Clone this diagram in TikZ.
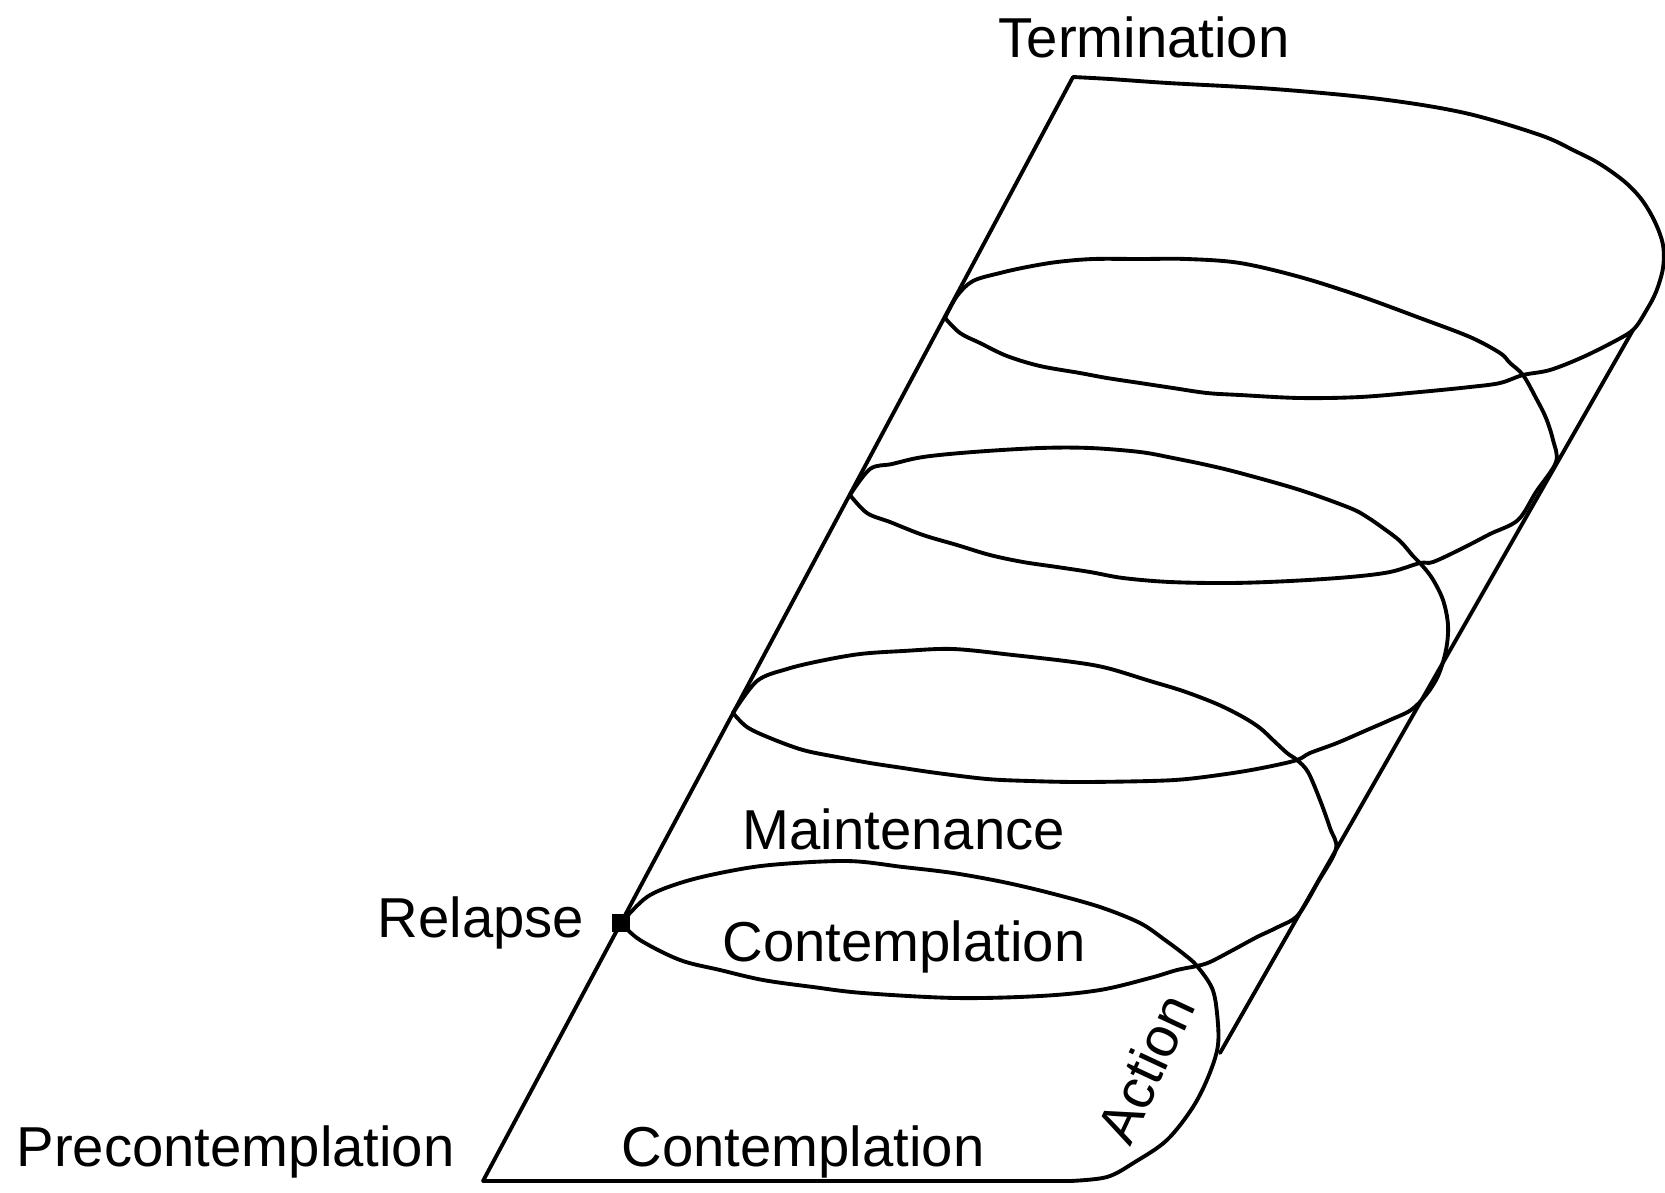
\documentclass[tikz,border=0pt]{standalone}
\usepackage{fontspec}
\setmainfont{Liberation Sans}

\begin{document}
\begin{tikzpicture}[x=0.01cm, y=-0.01cm,
  coil/.style={line width=1.1pt, line join=round, line cap=round},
  stage/.style={inner sep=0pt, anchor=base west, font=\fontsize{16}{19}\selectfont}
]
\useasboundingbox (0,0) rectangle (1665,1193);
\coordinate (base) at (483,1181);
\coordinate (top)  at (1073,77);
\coordinate (L1) at (621,923);
\coordinate (L2) at (733,713);
\coordinate (L3) at (850,495);
\coordinate (L4) at (945,318);
\coordinate (X1) at (1197,966);
\coordinate (X2) at (1297,760);
\coordinate (X3) at (1420,563);
\coordinate (X4) at (1523,375);
\coordinate (rb) at (1220,1053);
\coordinate (rt) at (1633,330);

\draw[coil] (base) -- (top);
\draw[coil] (rb) -- (rt);

\draw[coil] (base) -- (1070,1181) -- plot[smooth, tension=0.55] coordinates {(1070,1181) (1107,1177)
  (1135,1162) (1167,1140) (1193,1107) (1209,1075) (1218,1045) (1217,1013) (1212,988) (X1) (1185,955)
  (1165,940) (1140,923) (1100,907) (1050,893) (1003,882) (953,873) (903,867) (847,861) (770,865)
  (720,873) (680,883) (647,897) (L1)};
\draw[coil] plot[smooth, tension=0.55] coordinates {(L1) (640,940) (680,960) (720,970) (763,980)
  (813,987) (863,993) (956,998) (1040,996) (1100,990) (1150,978) (1177,970) (X1) (1210,962) (1233,950)
  (1257,937) (1278,927) (1298,915) (1318,882) (1336,849) (1330,828) (1320,800) (1308,772) (X2)
  (1287,753) (1273,740) (1260,728) (1243,717) (1217,704) (1183,691) (1150,681) (1107,668) (1073,662)
  (1013,655) (953,649) (903,651) (860,654) (820,661) (787,669) (757,681) (L2)};
\draw[coil] plot[smooth, tension=0.55] coordinates {(L2) (747,727) (770,738) (803,750) (837,757)
  (870,763) (903,768) (937,773) (987,779) (1030,781) (1080,782) (1150,781) (1187,779) (1233,773)
  (1267,767) (X2) (1310,753) (1337,743) (1367,730) (1390,720) (1411,710) (1426,695) (1438,676)
  (1446,650) (1448,625) (1443,600) (1432,578) (X3) (1413,556) (1400,541) (1383,528) (1367,517)
  (1350,508) (1300,490) (1240,473) (1207,465) (1173,458) (1140,452) (1090,448) (1040,448) (973,452)
  (923,457) (892,464) (870,469) (L3)};
\draw[coil] plot[smooth, tension=0.55] coordinates {(L3) (867,513) (890,522) (923,535) (957,545)
  (990,555) (1023,562) (1057,567) (1090,572) (1123,578) (1170,582) (1230,583) (1290,581) (1350,577)
  (1390,572) (X3) (1433,562) (1463,548) (1490,534) (1518,520) (1536,492) (1556,462) (1553,440)
  (1546,418) (1536,398) (X4) (1510,363) (1500,353) (1470,337) (1420,318) (1360,296) (1300,277)
  (1240,263) (1187,259) (1140,259) (1093,259) (1057,262) (1027,267) (1000,273) (973,281) (957,296)
  (L4)};
\draw[coil] plot[smooth, tension=0.55] coordinates {(L4) (960,333) (980,343) (1007,356) (1040,366)
  (1080,373) (1107,378) (1140,383) (1173,388) (1207,393) (1240,395) (1300,398) (1360,397) (1420,392)
  (1470,387) (1500,383) (X4) (1550,370) (1583,357) (1617,340) (1634,329) (1646,311) (1656,292)
  (1663,268) (1663,245) (1655,222) (1642,200) (1625,182) (1600,164) (1575,151) (1540,135) (1465,113)
  (1380,99) (1274,89) (1168,83) (1110,79) (top)};

\node[fill, inner sep=0pt, minimum size=5pt] (relapsept) at (L1) {};

\node[stage] (termination) at (998,57)   {Termination};
\node[stage] (maintenance) at (742,849)  {Maintenance};
\node[stage] (relapse)     at (377,937)  {Relapse};
\node[stage] (contupper)   at (722,961)  {Contemplation};
\node[stage] (precont)     at (16,1166)  {Precontemplation};
\node[stage] (contlower)   at (621,1166) {Contemplation};
\node[inner sep=0pt, rotate=65, font=\fontsize{16}{19}\selectfont] (action) at (1145,1068) {Action};
\end{tikzpicture}
\end{document}
